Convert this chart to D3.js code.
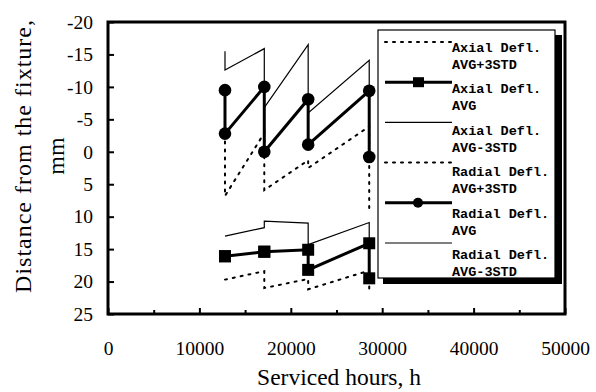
<!DOCTYPE html>
<html>
<head>
<meta charset="utf-8">
<script src="https://cdn.jsdelivr.net/npm/d3@7"></script>
<style>
  body { margin: 0; background: #fff; }
  svg { display: block; }
</style>
</head>
<body>
<script>
// serviced hours of each inspection
const hours = [12800, 17100, 21900, 28580];

// each inspection has a value before and after adjustment (sawtooth)
const axialPlusBefore  = [19.7, 18.4, 19.6, 18.3];
const axialPlusAfter   = [19.7, 21.0, 21.2, 21.3];
const axialAvgBefore   = [16.1, 15.4, 15.1, 14.1];
const axialAvgAfter    = [16.1, 15.4, 18.2, 19.5];
const axialMinusBefore = [13.0, 11.7, 11.0, 10.9];
const axialMinusAfter  = [13.0, 10.7, 14.3, 14.1];

const radialPlusBefore  = [-1.6, -2.9, 1.3, -3.9];
const radialPlusAfter   = [6.8, 5.9, 2.5, 9.5];
const radialAvgBefore   = [-9.5, -10.0, -8.1, -9.4];
const radialAvgAfter    = [-2.8, 0.0, -1.1, 0.8];
const radialMinusBefore = [-15.5, -15.9, -16.5, -14.1];
const radialMinusAfter  = [-12.6, -6.8, -6.0, -5.0];

const xTicks = [0, 5000, 10000, 15000, 20000, 25000, 30000, 35000, 40000, 45000, 50000];
const xTickLabels = ["0", "", "10000", "", "20000", "", "30000", "", "40000", "", "50000"];
const yTicks = [-20, -15, -10, -5, 0, 5, 10, 15, 20, 25];
const yTickLabels = ["-20", "-15", "-10", "-5", "0", "5", "10", "15", "20", "25"];

const W = 596, H = 392;
const plotL = 108, plotR = 565, plotT = 22, plotB = 314;
const serif = '"Liberation Serif", "Times New Roman", serif';

const svg = d3.select('body').append('svg')
  .attr('width', W).attr('height', H);

const x = d3.scaleLinear().domain([0, 50000]).range([plotL, plotR]);
const y = d3.scaleLinear().domain([-20, 25]).range([plotT, plotB]);

// x axis, ticks pointing inward
const xAxis = svg.append('g')
  .attr('transform', `translate(0,${plotB})`)
  .call(d3.axisBottom(x).tickValues(xTicks).tickSize(-6).tickPadding(27)
    .tickFormat((d, i) => xTickLabels[i]));
xAxis.select('.domain').remove();
xAxis.selectAll('.tick line')
  .attr('stroke-width', 2)
  .attr('y2', (d, i) => i % 2 ? -4 : -6);

const yAxis = svg.append('g')
  .attr('transform', `translate(${plotL},0)`)
  .call(d3.axisLeft(y).tickValues(yTicks).tickSize(-6).tickPadding(15)
    .tickFormat((d, i) => yTickLabels[i]));
yAxis.select('.domain').remove();
yAxis.selectAll('.tick line').attr('stroke-width', 2);

svg.selectAll('.tick text')
  .style('font-family', serif)
  .style('font-size', '19.5px')
  .attr('fill', '#000');

// plot frame
svg.append('rect')
  .attr('x', plotL).attr('y', plotT)
  .attr('width', plotR - plotL).attr('height', plotB - plotT)
  .attr('fill', 'none').attr('stroke', '#000').attr('stroke-width', 3);

// axis titles
svg.append('text')
  .attr('x', 339).attr('y', 385)
  .attr('text-anchor', 'middle')
  .style('font-family', serif)
  .style('font-size', '23.5px')
  .text('Serviced hours, h');

const yTitle = svg.append('g')
  .style('font-family', serif)
  .style('font-size', '24px')
  .attr('text-anchor', 'middle');
yTitle.append('text')
  .attr('transform', 'translate(31,156) rotate(-90)')
  .style('letter-spacing', '1px')
  .text('Distance from the fixture,');
yTitle.append('text')
  .attr('transform', 'translate(64,156) rotate(-90)')
  .text('mm');

function sawtooth(before, after) {
  const pts = [];
  hours.forEach((h, i) => {
    pts.push([h, before[i]]);
    pts.push([h, after[i]]);
  });
  return pts;
}

const line = d3.line().x(d => x(d[0])).y(d => y(d[1]));

const styles = {
  plus:  { width: 2, dash: '2,6' },
  avg:   { width: 3, dash: null },
  minus: { width: 1.2, dash: null }
};

const series = [
  { name: ['Axial Defl.', 'AVG+3STD'], kind: 'plus', marker: null, pts: sawtooth(axialPlusBefore, axialPlusAfter) },
  { name: ['Axial Defl.', 'AVG'], kind: 'avg', marker: 'square', pts: sawtooth(axialAvgBefore, axialAvgAfter) },
  { name: ['Axial Defl.', 'AVG-3STD'], kind: 'minus', marker: null, pts: sawtooth(axialMinusBefore, axialMinusAfter) },
  { name: ['Radial Defl.', 'AVG+3STD'], kind: 'plus', marker: null, pts: sawtooth(radialPlusBefore, radialPlusAfter) },
  { name: ['Radial Defl.', 'AVG'], kind: 'avg', marker: 'circle', pts: sawtooth(radialAvgBefore, radialAvgAfter) },
  { name: ['Radial Defl.', 'AVG-3STD'], kind: 'minus', marker: null, pts: sawtooth(radialMinusBefore, radialMinusAfter) }
];

const plot = svg.append('g');

series.forEach(s => {
  const st = styles[s.kind];
  plot.append('path')
    .attr('d', line(s.pts))
    .attr('fill', 'none')
    .attr('stroke', '#000')
    .attr('stroke-width', st.width)
    .attr('stroke-dasharray', st.dash)
    .attr('stroke-linecap', st.dash ? 'round' : 'butt');
});

series.forEach(s => {
  if (s.marker === 'square') {
    plot.selectAll(null).data(s.pts).enter().append('rect')
      .attr('x', d => x(d[0]) - 6).attr('y', d => y(d[1]) - 6)
      .attr('width', 12).attr('height', 12)
      .attr('fill', '#000');
  } else if (s.marker === 'circle') {
    plot.selectAll(null).data(s.pts).enter().append('circle')
      .attr('cx', d => x(d[0])).attr('cy', d => y(d[1]))
      .attr('r', 6.3)
      .attr('fill', '#000');
  }
});

// legend with drop shadow
const lg = svg.append('g');
lg.append('rect')
  .attr('x', 383).attr('y', 35).attr('width', 179).attr('height', 249)
  .attr('fill', '#000');
lg.append('rect')
  .attr('x', 378).attr('y', 30).attr('width', 177).attr('height', 248)
  .attr('fill', '#fff').attr('stroke', '#000').attr('stroke-width', 1.2);

series.forEach((s, i) => {
  const st = styles[s.kind];
  const sy = 42 + i * 40.2;
  const ty = 47 + i * 41.4;
  lg.append('line')
    .attr('x1', 385).attr('x2', 452)
    .attr('y1', sy).attr('y2', sy)
    .attr('stroke', '#000')
    .attr('stroke-width', st.width)
    .attr('stroke-dasharray', st.dash)
    .attr('stroke-linecap', st.dash ? 'round' : 'butt');
  if (s.marker === 'square') {
    lg.append('rect').attr('x', 413).attr('y', sy - 5)
      .attr('width', 11).attr('height', 10).attr('fill', '#000');
  } else if (s.marker === 'circle') {
    lg.append('circle').attr('cx', 418).attr('cy', sy).attr('r', 5).attr('fill', '#000');
  }
  const t = lg.append('text')
    .style('font-family', '"Liberation Mono", "DejaVu Sans Mono", monospace')
    .style('font-size', '13.5px')
    .style('font-weight', 'bold');
  t.append('tspan').attr('x', 452).attr('y', ty + 5).text(s.name[0]);
  t.append('tspan').attr('x', 452).attr('y', ty + 22).text(s.name[1]);
});
</script>
</body>
</html>
